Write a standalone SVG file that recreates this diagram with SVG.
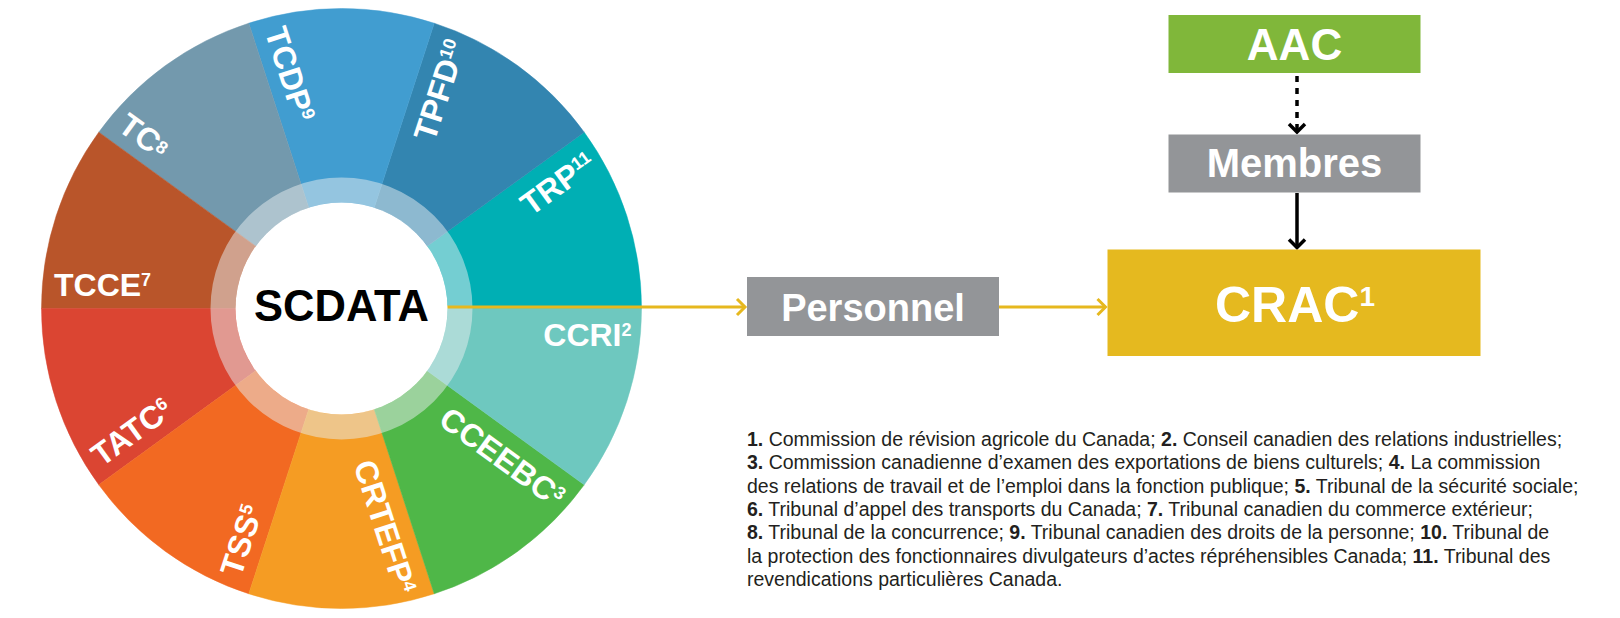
<svg xmlns="http://www.w3.org/2000/svg" width="1620" height="618" viewBox="0 0 1620 618">
<style>
.lbl{font-family:"Liberation Sans",Arial,sans-serif;font-weight:bold;font-size:32px;fill:#fff}
.sup{font-size:18px}
.out{text-anchor:end}
.box{font-family:"Liberation Sans",Arial,sans-serif;font-weight:bold;fill:#fff;text-anchor:middle}
.note{font-family:"Liberation Sans",Arial,sans-serif;font-size:19.5px;fill:#231f20}
.note .b{font-weight:bold}
.gold{stroke:#e6b81e;stroke-width:3;fill:none}
.blk{stroke:#000;stroke-width:3.5;fill:none}
</style>
<defs>
<marker id="chevG" markerUnits="userSpaceOnUse" markerWidth="14" markerHeight="22" refX="10" refY="10" orient="auto" viewBox="0 0 14 22">
<path d="M2,2 L10,10 L2,18" fill="none" stroke="#e6b81e" stroke-width="3"/>
</marker>
<marker id="chevK" markerUnits="userSpaceOnUse" markerWidth="16" markerHeight="22" refX="11" refY="10" orient="auto" viewBox="0 0 16 22">
<path d="M3,2 L11,10 L3,18" fill="none" stroke="#000" stroke-width="3.5"/>
</marker>
</defs>

<g id="wheel">
<g id="seg-trp">
<path d="M341.5,308.5 L641.5,308.5 A300,300 0 0 0 584.205,132.164 Z" fill="#00afb4" stroke="#00afb4" stroke-width="0.5"/>
<text class="lbl out" transform="rotate(-36 341.5 308.5)" x="631.5" y="345.5">TRP<tspan class="sup" dy="-10">11</tspan></text>
</g>
<g id="seg-tpfd">
<path d="M341.5,308.5 L584.205,132.164 A300,300 0 0 0 434.205,23.183 Z" fill="#3385b0" stroke="#3385b0" stroke-width="0.5"/>
<text class="lbl out" transform="rotate(-72 341.5 308.5)" x="631.5" y="345.5">TPFD<tspan class="sup" dy="-10">10</tspan></text>
</g>
<g id="seg-tcdp">
<path d="M341.5,308.5 L434.205,23.183 A300,300 0 0 0 248.795,23.183 Z" fill="#419dd0" stroke="#419dd0" stroke-width="0.5"/>
<text class="lbl" transform="rotate(72 341.5 308.5)" x="54" y="296">TCDP<tspan class="sup" dy="-10">9</tspan></text>
</g>
<g id="seg-tc">
<path d="M341.5,308.5 L248.795,23.183 A300,300 0 0 0 98.795,132.164 Z" fill="#7399ad" stroke="#7399ad" stroke-width="0.5"/>
<text class="lbl" transform="rotate(36 341.5 308.5)" x="54" y="296">TC<tspan class="sup" dy="-6">8</tspan></text>
</g>
<g id="seg-tcce">
<path d="M341.5,308.5 L98.795,132.164 A300,300 0 0 0 41.5,308.5 Z" fill="#b9552a" stroke="#b9552a" stroke-width="0.5"/>
<text class="lbl" x="54" y="296">TCCE<tspan class="sup" dy="-10">7</tspan></text>
</g>
<g id="seg-tatc">
<path d="M341.5,308.5 L41.5,308.5 A300,300 0 0 0 98.795,484.836 Z" fill="#db4532" stroke="#db4532" stroke-width="0.5"/>
<text class="lbl" transform="rotate(-36 341.5 308.5)" x="54" y="296">TATC<tspan class="sup" dy="-10">6</tspan></text>
</g>
<g id="seg-tss">
<path d="M341.5,308.5 L98.795,484.836 A300,300 0 0 0 248.795,593.817 Z" fill="#f26922" stroke="#f26922" stroke-width="0.5"/>
<text class="lbl" transform="rotate(-72 341.5 308.5)" x="54" y="296">TSS<tspan class="sup" dy="-10">5</tspan></text>
</g>
<g id="seg-crtefp">
<path d="M341.5,308.5 L248.795,593.817 A300,300 0 0 0 434.205,593.817 Z" fill="#f59c23" stroke="#f59c23" stroke-width="0.5"/>
<text class="lbl out" transform="rotate(72 341.5 308.5)" x="631.5" y="345.5">CRTEFP<tspan class="sup" dy="-10">4</tspan></text>
</g>
<g id="seg-cceebc">
<path d="M341.5,308.5 L434.205,593.817 A300,300 0 0 0 584.205,484.836 Z" fill="#4fb748" stroke="#4fb748" stroke-width="0.5"/>
<text class="lbl out" transform="rotate(36 341.5 308.5)" x="631.5" y="345.5">CCEEBC<tspan class="sup" dy="-10">3</tspan></text>
</g>
<g id="seg-ccri">
<path d="M341.5,308.5 L584.205,484.836 A300,300 0 0 0 641.5,308.5 Z" fill="#6ec8bf" stroke="#6ec8bf" stroke-width="0.5"/>
<text class="lbl out" x="631.5" y="345.5">CCRI<tspan class="sup" dy="-10">2</tspan></text>
</g>
<circle cx="341.5" cy="308.5" r="118.5" fill="none" stroke="#e8eef0" stroke-opacity="0.5" stroke-width="25"/>
</g>

<g id="connectors">
<line class="gold" x1="447" y1="307" x2="745" y2="307" marker-end="url(#chevG)"/>
<line class="gold" x1="999" y1="307" x2="1105.5" y2="307" marker-end="url(#chevG)"/>
<line class="blk" x1="1297" y1="76" x2="1297" y2="132" stroke-width="4.5" stroke-dasharray="6 6" marker-end="url(#chevK)"/>
<line class="blk" x1="1297" y1="193" x2="1297" y2="247.5" marker-end="url(#chevK)"/>
</g>

<g id="scdata">
<circle cx="341.5" cy="308.5" r="106" fill="#fff"/>
<text x="341.5" y="321" text-anchor="middle" font-family="'Liberation Sans',Arial,sans-serif" font-weight="bold" font-size="43.5" fill="#000">SCDATA</text>
</g>

<g id="personnel">
<rect x="747" y="277" width="252" height="59" fill="#939598"/>
<text class="box" x="873" y="321" font-size="38">Personnel</text>
</g>

<g id="aac">
<rect x="1168.5" y="15" width="252" height="58" fill="#80b73a"/>
<text class="box" x="1294.5" y="60" font-size="44">AAC</text>
</g>

<g id="membres">
<rect x="1168.5" y="134.5" width="252" height="58" fill="#939598"/>
<text class="box" x="1294.5" y="177" font-size="40">Membres</text>
</g>

<g id="crac">
<rect x="1107.5" y="249.5" width="373" height="106.5" fill="#e5b91f"/>
<text class="box" x="1295" y="322" font-size="50">CRAC<tspan font-size="28" dy="-16">1</tspan></text>
</g>

<g id="notes" class="note">
<text x="747" y="446"><tspan class="b">1.</tspan> Commission de révision agricole du Canada; <tspan class="b">2.</tspan> Conseil canadien des relations industrielles;</text>
<text x="747" y="469.3"><tspan class="b">3.</tspan> Commission canadienne d’examen des exportations de biens culturels; <tspan class="b">4.</tspan> La commission</text>
<text x="747" y="492.6">des relations de travail et de l’emploi dans la fonction publique; <tspan class="b">5.</tspan> Tribunal de la sécurité sociale;</text>
<text x="747" y="515.9"><tspan class="b">6.</tspan> Tribunal d’appel des transports du Canada; <tspan class="b">7.</tspan> Tribunal canadien du commerce extérieur;</text>
<text x="747" y="539.2"><tspan class="b">8.</tspan> Tribunal de la concurrence; <tspan class="b">9.</tspan> Tribunal canadien des droits de la personne; <tspan class="b">10.</tspan> Tribunal de</text>
<text x="747" y="562.5">la protection des fonctionnaires divulgateurs d’actes répréhensibles Canada; <tspan class="b">11.</tspan> Tribunal des</text>
<text x="747" y="585.8">revendications particulières Canada.</text>
</g>
</svg>
